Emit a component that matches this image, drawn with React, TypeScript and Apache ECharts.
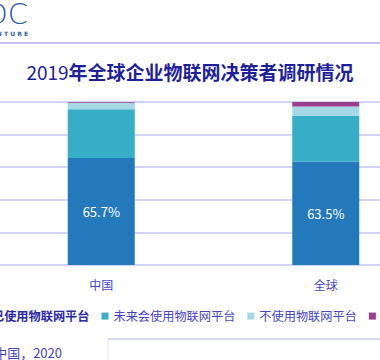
import React, { useEffect, useRef } from "react";
import * as echarts from "echarts";

const categories = ["中国", "全球"];
const seriesNames = ["已使用物联网平台", "未来会使用物联网平台", "不使用物联网平台", "不清楚"];
const usingNow = [65.7, 63.5];
const willUse = [29.8, 28.1];
const notUse = [4.1, 5.7];
const unsure = [0.4, 2.7];
const yTicks = [0, 20, 40, 60, 80, 100];
const titleYear = "2019";
const titleRest = "年全球企业物联网决策者调研情况";
const sourceText = "来源：IDC中国，2020";

const colors = ["#2479bd", "#36aec7", "#a3d8e4", "#9c3f8f"];
const OFF = 40;
const W = 490;
const H = 360;

export default function App() {
  const ref = useRef<HTMLDivElement>(null);
  useEffect(() => {
    if (!ref.current) return;
    const chart = echarts.init(ref.current, undefined, { renderer: "svg" });
    const values = [usingNow, willUse, notUse, unsure];
    const font = "'Noto Sans CJK SC', 'Noto Sans', sans-serif";
    chart.setOption({
      animation: false,
      textStyle: { fontFamily: font },
      grid: { left: 29, right: 12, top: 102, bottom: H - 265 },
      xAxis: {
        type: "category",
        data: categories,
        axisLine: { show: false },
        axisTick: { show: false },
        axisLabel: { color: "#4646c8", fontSize: 12, margin: 13, fontFamily: font },
      },
      yAxis: {
        type: "value",
        min: yTicks[0],
        max: yTicks[yTicks.length - 1],
        interval: yTicks[1] - yTicks[0],
        axisLabel: { show: false },
        axisLine: { show: false },
        axisTick: { show: false },
        splitLine: { lineStyle: { color: "#c6c6f4", width: 1.5 } },
      },
      legend: {
        left: -25 + OFF,
        top: 305,
        icon: "rect",
        itemWidth: 7,
        itemHeight: 7,
        itemGap: 12,
        textStyle: { color: "#4444c4", fontSize: 12.2, fontFamily: font },
        data: [
          { name: seriesNames[0], textStyle: { fontWeight: "bold", color: "#2a2aa8" } },
          { name: seriesNames[1] },
          { name: seriesNames[2] },
          { name: seriesNames[3] },
        ],
      },
      series: seriesNames.map((name, i) => ({
        name,
        type: "bar",
        stack: "total",
        barWidth: 67,
        data: values[i],
        itemStyle: { color: colors[i] },
        label: i === 0
          ? { show: true, position: "inside", color: "#ffffff", fontSize: 13, formatter: "{c}%", fontFamily: font }
          : { show: false },
      })),
      graphic: [
        {
          type: "text",
          x: 28 + OFF,
          y: 14,
          style: {
            text: "IDC",
            align: "right",
            verticalAlign: "middle",
            fontSize: 29,
            fontWeight: 200,
            fontFamily: "'DejaVu Sans', sans-serif",
            fill: "#1f5b9f",
          },
        },
        {
          type: "text",
          x: 28 + OFF,
          y: 33,
          style: {
            text: "ANALYZE THE  F U T U R E",
            align: "right",
            verticalAlign: "middle",
            fontSize: 6,
            fontWeight: "bold",
            fontFamily: "'DejaVu Sans', sans-serif",
            fill: "#1f5b9f",
          },
        },
        {
          type: "line",
          shape: { x1: 0, y1: 43, x2: W, y2: 43 },
          style: { stroke: "#c4c4f6", lineWidth: 2 },
        },
        {
          type: "text",
          x: 190 + OFF,
          y: 71,
          style: {
            text: "{a|" + titleYear + "}{b|" + titleRest + "}",
            align: "center",
            verticalAlign: "middle",
            fontSize: 19,
            fontFamily: font,
            fill: "#1f1f9b",
            rich: {
              a: { fontSize: 19, fontWeight: "normal", fontFamily: font, fill: "#1f1f9b" },
              b: { fontSize: 19, fontWeight: "bold", fontFamily: font, fill: "#1f1f9b" },
            },
          },
        },
        {
          type: "line",
          shape: { x1: 108 + OFF, y1: 339, x2: W, y2: 339 },
          style: { stroke: "#c8c8f4", lineWidth: 1.5 },
        },
        {
          type: "line",
          shape: { x1: 108 + OFF, y1: 339, x2: 108 + OFF, y2: H },
          style: { stroke: "#e4e4ec", lineWidth: 1 },
        },
        {
          type: "text",
          x: 62 + OFF,
          y: 352,
          style: {
            text: sourceText,
            align: "right",
            verticalAlign: "middle",
            fontSize: 13,
            fontFamily: font,
            fill: "#4343c0",
          },
        },
      ],
    });
    return () => chart.dispose();
  }, []);
  return (
    <div style={{ position: "fixed", left: 0, top: 0, width: 380, height: H, overflow: "hidden", background: "#fff" }}>
      <div ref={ref} style={{ position: "absolute", left: -OFF, top: 0, width: W, height: H }} />
    </div>
  );
}
